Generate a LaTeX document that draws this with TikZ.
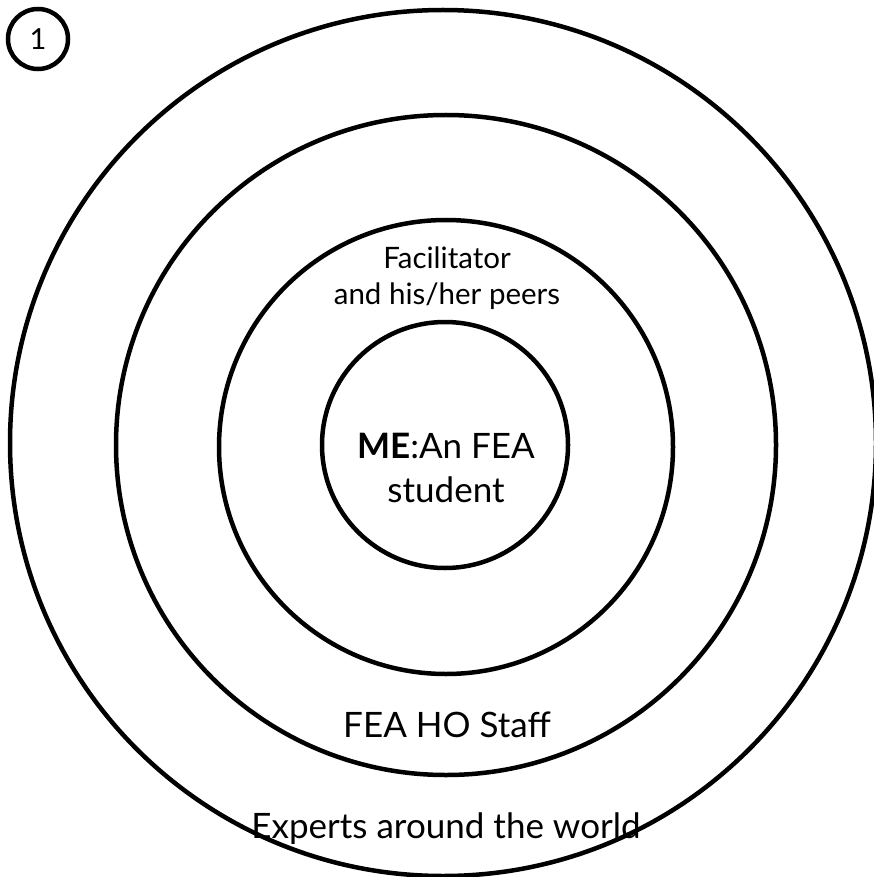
\documentclass[tikz,border=0pt]{standalone}
\usepackage{fontspec}
\setmainfont{Lato}
\begin{document}
\begin{tikzpicture}[x=1pt,y=-1pt,
  ring/.style={draw=black,line width=4.5pt},
  lbl/.style={inner sep=0pt,anchor=base,align=center},
  fsmall/.style={font=\fontsize{29.5}{36}\selectfont},
  fmid/.style={font=\fontsize{35}{40}\selectfont},
  fbig/.style={font=\fontsize{35}{42}\selectfont}]
\useasboundingbox (0,0) rectangle (874,877);
\fill[white] (0,0) rectangle (874,877);
% rings
\draw[ring] (443,443) circle (433);
\draw[ring] (446,445) circle (330);
\draw[ring] (446,447) circle (227);
\node[ring,circle,minimum size=246pt,inner sep=0pt] (me) at (445,445) {};
% slide number
\node[ring,circle,minimum size=60pt,inner sep=0pt,font=\fontsize{29}{30}\selectfont] (num) at (38,39) {1};
% labels
\node[lbl,fsmall] (fac1) at (447,268) {Facilitator};
\node[lbl,fsmall] (fac2) at (447,304) {and his/her peers};
\node[lbl,fmid] (me1) at (446,458) {\textbf{ME}:An FEA};
\node[lbl,fmid] (me2) at (446,502) {student};
\node[lbl,fbig] (staff) at (447,737) {FEA HO Staff};
\node[lbl,fmid] (world) at (446,838) {Experts around the world};
\end{tikzpicture}
\end{document}
